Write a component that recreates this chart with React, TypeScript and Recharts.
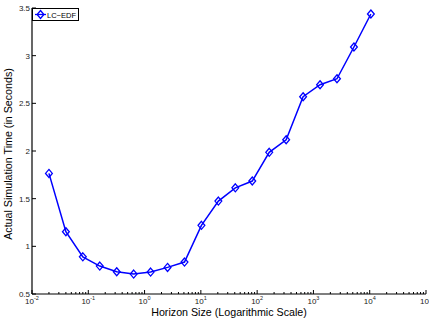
import React from 'react';
import { LineChart, Line, XAxis, YAxis } from 'recharts';

const horizonSizes = [
  0.02, 0.04, 0.08, 0.16, 0.32, 0.64, 1.28, 2.56, 5.12, 10.24,
  20.48, 40.96, 81.92, 163.84, 327.68, 655.36, 1310.72, 2621.44, 5242.88, 10485.76,
];
const simTimes = [
  1.765, 1.153, 0.89, 0.793, 0.733, 0.709, 0.73, 0.779, 0.835, 1.22,
  1.475, 1.614, 1.685, 1.986, 2.118, 2.569, 2.695, 2.758, 3.091, 3.437,
];
const seriesName = 'LC\u2212EDF';
const xMajorTicks = [0.01, 0.1, 1, 10, 100, 1000, 10000, 100000];
const xTickExponents = ['-2', '-1', '0', '1', '2', '3', '4', '5'];
const yTicks = [0.5, 1, 1.5, 2, 2.5, 3, 3.5];
const xLabel = 'Horizon Size (Logarithmic Scale)';
const yLabel = 'Actual Simulation Time (in Seconds)';

const data = horizonSizes.map((h, i) => ({ h, t: simTimes[i] }));

const minorTicks: number[] = [];
xMajorTicks.slice(0, -1).forEach((m) => {
  for (let k = 2; k <= 9; k++) minorTicks.push(m * k);
});
const allXTicks = [...xMajorTicks, ...minorTicks].sort((a, b) => a - b);

const BLUE = '#0000ff';
const FONT = 'Liberation Sans, Arial, Helvetica, sans-serif';

const majorIndex = (v: number) => xMajorTicks.findIndex((m) => Math.abs(m - v) / m < 1e-6);

const BottomTick = (props: any) => {
  const { x, y, payload } = props;
  const idx = majorIndex(payload.value);
  const len = idx >= 0 ? 4 : 2;
  return (
    <g>
      <line x1={x} y1={y} x2={x} y2={y - len} stroke="#000" strokeWidth={1} />
      {idx >= 0 && (
        <text x={x} y={y + 10} textAnchor="middle" fontFamily={FONT} fontSize={8} fill="#222">
          <tspan>10</tspan>
          <tspan dy={-4} fontSize={5.5}>{xTickExponents[idx]}</tspan>
        </text>
      )}
    </g>
  );
};

const TopTick = (props: any) => {
  const { x, y, payload } = props;
  const idx = majorIndex(payload.value);
  const len = idx >= 0 ? 4 : 2;
  return <line x1={x} y1={y} x2={x} y2={y + len} stroke="#000" strokeWidth={1} />;
};

const LeftTick = (props: any) => {
  const { x, y, payload } = props;
  return (
    <g>
      <line x1={x} y1={y} x2={x + 4} y2={y} stroke="#000" strokeWidth={1} />
      <text x={x - 2} y={y + 3} textAnchor="end" fontFamily={FONT} fontSize={8} fill="#222">
        {String(payload.value)}
      </text>
    </g>
  );
};

const RightTick = (props: any) => {
  const { x, y } = props;
  return <line x1={x} y1={y} x2={x - 4} y2={y} stroke="#000" strokeWidth={1} />;
};

const Diamond = (props: any) => {
  const { cx, cy, index } = props;
  if (cx == null || cy == null) return <g key={index} />;
  return (
    <polygon
      key={index}
      points={`${cx},${cy - 4} ${cx + 3.4},${cy} ${cx},${cy + 4} ${cx - 3.4},${cy}`}
      fill="none"
      stroke={BLUE}
      strokeWidth={1.3}
    />
  );
};

const LegendBox = () => (
  <svg width={48} height={14} style={{ display: 'block' }}>
    <rect x={0.5} y={0.5} width={46} height={12} fill="#fff" stroke="#000" strokeWidth={1} />
    <line x1={3} y1={6.5} x2={14} y2={6.5} stroke={BLUE} strokeWidth={1.3} />
    <polygon points="8.5,2.5 11.9,6.5 8.5,10.5 5.1,6.5" fill="none" stroke={BLUE} strokeWidth={1.3} />
    <text x={15} y={9.5} fontFamily={FONT} fontSize={7.5} fill="#000">{seriesName}</text>
  </svg>
);

export default function App() {
  return (
    <div style={{ position: 'absolute', left: 0, top: 0, width: 429, height: 320, background: '#fff' }}>
      <LineChart width={429} height={320} data={data} margin={{ top: 8, right: 3, bottom: 0, left: 0 }}>
        <XAxis
          xAxisId="bottom"
          dataKey="h"
          type="number"
          scale="log"
          domain={[0.01, 100000]}
          ticks={allXTicks}
          interval={0}
          allowDataOverflow
          tickSize={0}
          tickMargin={0}
          tickLine={false}
          axisLine={{ stroke: '#000', strokeWidth: 1.2 }}
          tick={<BottomTick />}
          height={26}
          label={{ value: xLabel, position: 'insideBottom', offset: 4, fontFamily: FONT, fontSize: 10.7, fill: '#000' }}
        />
        <XAxis
          xAxisId="top"
          orientation="top"
          dataKey="h"
          type="number"
          scale="log"
          domain={[0.01, 100000]}
          ticks={allXTicks}
          interval={0}
          allowDataOverflow
          tickSize={0}
          tickMargin={0}
          tickLine={false}
          axisLine={{ stroke: '#000', strokeWidth: 1.2 }}
          tick={<TopTick />}
          height={0}
        />
        <YAxis
          yAxisId="left"
          type="number"
          domain={[0.5, 3.5]}
          ticks={yTicks}
          interval={0}
          allowDataOverflow
          tickSize={0}
          tickMargin={0}
          tickLine={false}
          axisLine={{ stroke: '#000', strokeWidth: 1.2 }}
          tick={<LeftTick />}
          width={32}
          label={{ value: yLabel, angle: -90, position: 'insideLeft', offset: 8, dy: 3, fontFamily: FONT, fontSize: 10.7, fill: '#000', style: { textAnchor: 'middle' } }}
        />
        <YAxis
          yAxisId="right"
          orientation="right"
          type="number"
          domain={[0.5, 3.5]}
          ticks={yTicks}
          interval={0}
          allowDataOverflow
          tickSize={0}
          tickMargin={0}
          tickLine={false}
          axisLine={{ stroke: '#000', strokeWidth: 1.2 }}
          tick={<RightTick />}
          width={0}
        />
        <Line
          xAxisId="bottom"
          yAxisId="left"
          dataKey="t"
          name={seriesName}
          stroke={BLUE}
          strokeWidth={1.5}
          dot={<Diamond />}
          activeDot={false}
          isAnimationActive={false}
        />
      </LineChart>
      <div style={{ position: 'absolute', left: 32, top: 8 }}>
        <LegendBox />
      </div>
    </div>
  );
}
